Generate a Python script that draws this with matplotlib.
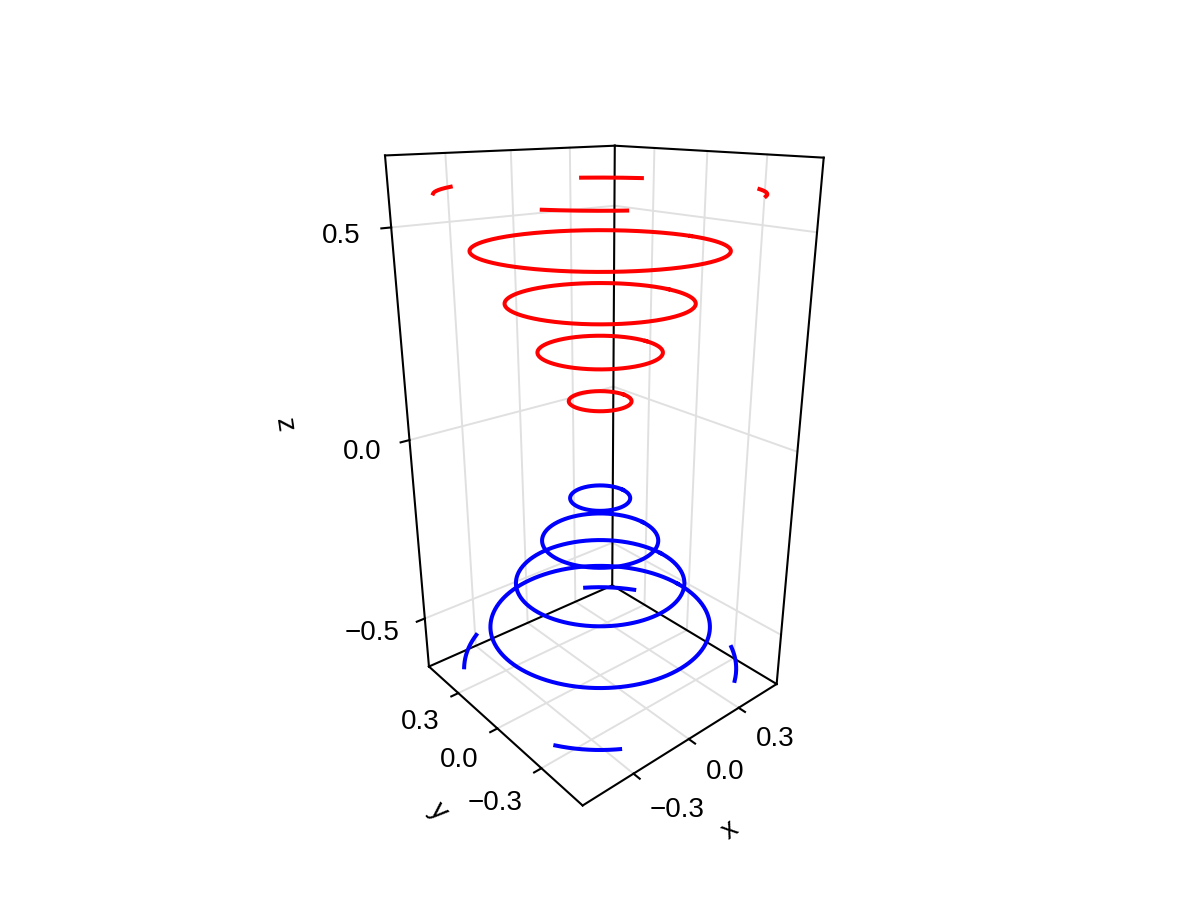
import numpy as np
import matplotlib
matplotlib.use("Agg")
import matplotlib.pyplot as plt
from mpl_toolkits.mplot3d import Axes3D

plt.rcParams['font.family'] = ['Liberation Sans', 'DejaVu Sans']

# contour levels
red_z = [0.112, 0.23, 0.344, 0.461, 0.58]
red_r = [0.123, 0.24, 0.357, 0.475, 0.59]
blue_z = [-0.135, -0.247, -0.361, -0.48, -0.593]
blue_r = [0.123, 0.242, 0.357, 0.473, 0.595]

x_ticks = [-0.3, 0.0, 0.3]
y_ticks = [-0.3, 0.0, 0.3]
z_ticks = [-0.5, 0.0, 0.5]
x_lim = (-0.55, 0.55)
y_lim = (-0.55, 0.55)
z_lim = (-0.65, 0.65)
data_edge = 0.5  # the contours stop here, short of the box

fig = plt.figure(figsize=(12, 9), dpi=100)
ax = fig.add_axes([-12 / 1200, -8 / 900, 1, 1], projection='3d')
ax.set_proj_type('persp', focal_length=0.18)
ax.view_init(elev=21.6, azim=-130.3)
ax.set_box_aspect((1, 1, 2.0), zoom=0.727)
ax.set_axis_off()
ax.set_xlim(x_lim)
ax.set_ylim(y_lim)
ax.set_zlim(z_lim)

x0, x1 = x_lim
y0, y1 = y_lim
z0, z1 = z_lim

frame = dict(color='black', lw=1.5, zorder=3)
grid = dict(color='#e0e0e0', lw=1.4, zorder=1)

# grid on the floor and the two back walls
for v in x_ticks:
    ax.plot([v, v], [y0, y1], [z0, z0], **grid)
    ax.plot([v, v], [y1, y1], [z0, z1], **grid)
for v in y_ticks:
    ax.plot([x0, x1], [v, v], [z0, z0], **grid)
    ax.plot([x1, x1], [v, v], [z0, z1], **grid)
for v in z_ticks:
    ax.plot([x0, x1], [y1, y1], [v, v], **grid)
    ax.plot([x1, x1], [y0, y1], [v, v], **grid)

# box frame
ax.plot([x0, x1], [y0, y0], [z0, z0], **frame)
ax.plot([x0, x0], [y0, y1], [z0, z0], **frame)
ax.plot([x1, x1], [y0, y1], [z0, z0], **frame)
ax.plot([x0, x1], [y1, y1], [z0, z0], **frame)
ax.plot([x0, x1], [y1, y1], [z1, z1], **frame)
ax.plot([x1, x1], [y0, y1], [z1, z1], **frame)
ax.plot([x0, x0], [y1, y1], [z0, z1], **frame)
ax.plot([x1, x1], [y0, y0], [z0, z1], **frame)
ax.plot([x1, x1], [y1, y1], [z0, z1], **frame)

# rings, cut at the data range
t = np.linspace(0, 2 * np.pi, 721)


def ring(r, z, color):
    xs = r * np.cos(t)
    ys = r * np.sin(t)
    keep = (np.abs(xs) <= data_edge) & (np.abs(ys) <= data_edge)
    xs = np.where(keep, xs, np.nan)
    ys = np.where(keep, ys, np.nan)
    ax.plot(xs, ys, np.full_like(t, z), color=color, lw=2.9, zorder=5)


for r, z in zip(red_r, red_z):
    ring(r, z, '#ff0000')
for r, z in zip(blue_r, blue_z):
    ring(r, z, '#0000ff')

# ticks and labels
tick = dict(color='black', lw=1.5, zorder=3)
for v in x_ticks:
    ax.plot([v, v], [y0, y0 - 0.035], [z0, z0], **tick)
    ax.text(v - 0.035, y0 - 0.13, z0 - 0.035, f"{v:.1f}".replace('-', '\u2212'),
            fontsize=20, ha='left', va='center')
for v in y_ticks:
    ax.plot([x0, x0 - 0.035], [v, v], [z0, z0], **tick)
    ax.text(x0 - 0.12, v - 0.04, z0 - 0.04, f"{v:.1f}".replace('-', '\u2212'),
            fontsize=20, ha='right', va='center')
for v in z_ticks:
    ax.plot([x0, x0 - 0.04], [y1, y1], [v, v], **tick)
    ax.text(x0 - 0.125, y1, v - 0.012, f"{v:.1f}".replace('-', '\u2212'),
            fontsize=20, ha='right', va='center')

ax.text(-0.22, y0 - 0.42, z0 - 0.005, 'x', zdir='x', fontsize=20, ha='center', va='center')
ax.text(x0 - 0.42, -0.245, z0 + 0.005, 'y', zdir='y', fontsize=20, ha='center', va='center')
ax.text(x0 - 0.39, y1 + 0.3, 0.045, 'z', zdir='z', fontsize=20, ha='center', va='center')

fig.savefig('out.png', dpi=100)
